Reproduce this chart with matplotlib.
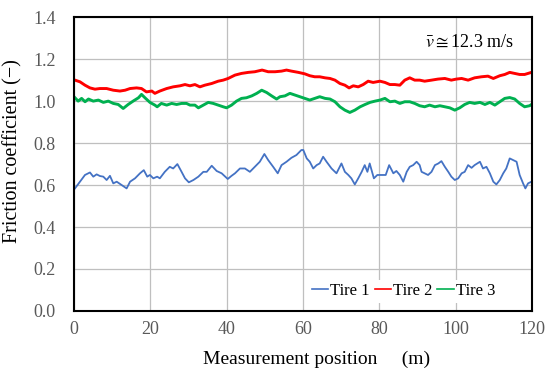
import matplotlib.pyplot as plt

# Tire 1 (blue)
t1_x = [0.26, 2.88, 4.19, 5.06, 5.94, 6.81, 7.69, 8.56, 9.43, 10.3, 11.2, 12.5, 13.8, 14.7,
        16.0, 17.3, 18.3, 19.2, 19.9, 20.8, 21.8, 22.5, 23.8, 25.1, 26.0, 27.1, 28.2, 29.1,
        30.1, 31.3, 32.6, 33.9, 34.8, 36.1, 37.4, 38.7, 40.3, 41.3, 42.2, 43.5, 44.8, 46.1,
        47.4, 48.7, 49.9, 50.9, 52.2, 53.4, 54.4, 55.7, 57.0, 58.3, 59.6, 60.1, 61.0, 61.8,
        62.7, 63.6, 64.4, 65.3, 66.2, 67.5, 68.8, 70.1, 71.0, 71.9, 72.7, 73.6, 74.5, 75.4,
        76.2, 76.9, 77.5, 78.6, 79.5, 80.6, 81.7, 82.6, 83.7, 84.5, 85.4, 86.3, 87.2, 88.0,
        88.9, 89.8, 90.6, 91.1, 91.9, 92.8, 93.7, 94.6, 95.5, 96.3, 97.2, 98.1, 98.9, 99.8,
        100.7, 101.6, 102.4, 103.3, 104.2, 105.0, 106.4, 107.2, 108.1, 109.0, 109.9, 110.7,
        111.6, 112.5, 113.3, 114.2, 115.1, 116.0, 116.8, 117.7, 118.3, 119.0, 119.9]
t1_y = [0.584, 0.648, 0.660, 0.640, 0.651, 0.643, 0.640, 0.624, 0.644, 0.608, 0.616, 0.600,
        0.584, 0.616, 0.632, 0.656, 0.671, 0.640, 0.648, 0.632, 0.640, 0.632, 0.663, 0.687,
        0.679, 0.700, 0.663, 0.632, 0.613, 0.624, 0.640, 0.663, 0.663, 0.692, 0.667, 0.656,
        0.629, 0.644, 0.656, 0.679, 0.679, 0.663, 0.687, 0.711, 0.748, 0.719, 0.687, 0.656,
        0.695, 0.711, 0.730, 0.743, 0.767, 0.767, 0.727, 0.711, 0.679, 0.695, 0.703, 0.735,
        0.711, 0.679, 0.656, 0.703, 0.663, 0.648, 0.632, 0.603, 0.632, 0.663, 0.695, 0.663,
        0.703, 0.632, 0.648, 0.648, 0.648, 0.695, 0.656, 0.667, 0.648, 0.616, 0.663, 0.687,
        0.695, 0.711, 0.695, 0.663, 0.656, 0.648, 0.663, 0.695, 0.703, 0.714, 0.687, 0.663,
        0.640, 0.624, 0.632, 0.656, 0.663, 0.695, 0.682, 0.695, 0.711, 0.679, 0.687, 0.656,
        0.616, 0.603, 0.624, 0.656, 0.679, 0.727, 0.719, 0.711, 0.648, 0.608, 0.584, 0.608,
        0.616]

# Tire 2 (red)
t2_x = [0.26, 1.57, 2.88, 4.19, 5.5, 6.81, 8.56, 10.3, 12.05, 13.4, 14.7, 16.4, 17.7, 19.0,
        20.4, 21.2, 22.5, 24.3, 26.0, 27.8, 29.1, 30.4, 31.7, 33.0, 34.3, 36.1, 37.8, 39.1,
        40.4, 42.2, 43.9, 45.7, 47.4, 49.3, 50.9, 52.7, 54.4, 55.7, 57.0, 58.8, 60.5, 61.8,
        63.1, 64.4, 65.8, 67.1, 68.4, 69.7, 71.0, 72.1, 73.2, 74.5, 75.8, 77.1, 78.4, 80.2,
        81.5, 82.8, 84.1, 85.4, 86.7, 88.0, 89.3, 90.6, 91.9, 93.7, 95.4, 97.2, 98.9, 100.2,
        101.6, 103.3, 105.0, 106.8, 108.5, 109.9, 111.6, 112.9, 114.2, 115.5, 116.8, 118.1,
        119.0, 119.9]
t2_y = [1.100, 1.092, 1.076, 1.063, 1.057, 1.060, 1.060, 1.052, 1.048, 1.052, 1.060, 1.063,
        1.060, 1.044, 1.048, 1.037, 1.048, 1.060, 1.068, 1.073, 1.079, 1.073, 1.079, 1.068,
        1.076, 1.084, 1.095, 1.100, 1.108, 1.124, 1.132, 1.137, 1.140, 1.148, 1.140, 1.140,
        1.143, 1.148, 1.143, 1.137, 1.130, 1.121, 1.116, 1.116, 1.111, 1.108, 1.100, 1.084,
        1.076, 1.063, 1.073, 1.068, 1.079, 1.095, 1.089, 1.095, 1.089, 1.079, 1.079, 1.076,
        1.100, 1.111, 1.100, 1.100, 1.095, 1.100, 1.105, 1.108, 1.100, 1.105, 1.108, 1.100,
        1.111, 1.116, 1.119, 1.108, 1.121, 1.127, 1.137, 1.132, 1.127, 1.127, 1.132, 1.137]

# Tire 3 (green)
t3_x = [0.26, 1.1, 2.0, 2.9, 3.8, 5.06, 6.4, 7.7, 9.0, 10.3, 11.6, 12.9, 14.2, 15.5, 16.9,
        17.7, 18.6, 19.9, 21.2, 21.8, 22.9, 24.3, 25.6, 26.9, 28.2, 29.5, 30.4, 31.7, 32.6,
        33.9, 35.2, 36.5, 37.8, 39.1, 40.0, 41.3, 42.6, 43.9, 45.2, 46.6, 47.9, 49.2, 50.5,
        51.8, 53.1, 54.0, 55.3, 56.6, 57.9, 59.2, 60.5, 61.8, 63.1, 64.4, 65.8, 67.1, 68.4,
        69.7, 71.0, 72.3, 73.6, 75.0, 76.3, 77.6, 78.9, 80.2, 81.5, 82.8, 84.1, 85.4, 86.7,
        88.0, 89.3, 90.6, 91.9, 93.2, 94.6, 95.9, 97.2, 98.5, 99.8, 101.1, 102.4, 103.7,
        105.0, 106.4, 107.7, 109.0, 110.3, 111.6, 112.9, 114.2, 115.5, 116.8, 118.1, 119.4,
        119.9]
t3_y = [1.016, 1.000, 1.013, 0.997, 1.010, 1.000, 1.005, 0.994, 1.000, 0.989, 0.984, 0.965,
        0.984, 1.000, 1.016, 1.032, 1.016, 0.994, 0.981, 0.973, 0.989, 0.981, 0.989, 0.984,
        0.989, 0.989, 0.981, 0.981, 0.968, 0.981, 0.994, 0.989, 0.981, 0.973, 0.968, 0.981,
        1.000, 1.013, 1.016, 1.025, 1.037, 1.052, 1.041, 1.025, 1.010, 1.021, 1.025, 1.037,
        1.029, 1.021, 1.013, 1.005, 1.013, 1.021, 1.013, 1.010, 0.997, 0.973, 0.957, 0.946,
        0.957, 0.973, 0.984, 0.994, 1.000, 1.005, 1.013, 0.997, 1.000, 0.989, 0.997, 0.997,
        0.989, 0.978, 0.973, 0.981, 0.973, 0.978, 0.973, 0.968, 0.957, 0.968, 0.984, 0.994,
        0.989, 0.994, 0.984, 0.994, 0.981, 0.997, 1.013, 1.017, 1.010, 0.989, 0.973, 0.978,
        0.984]

plt.rcParams['font.family'] = ['Liberation Serif', 'DejaVu Serif']
plt.rcParams['mathtext.fontset'] = 'stix'

fig = plt.figure(figsize=(5.5, 3.82), dpi=100)
ax = fig.add_axes([0.1345, 0.186, 0.8325, 0.769])

ax.plot(t1_x, t1_y, color='#4472C4', lw=1.3, label='Tire 1')
ax.plot(t2_x, t2_y, color='#FF0000', lw=2.1, label='Tire 2')
ax.plot(t3_x, t3_y, color='#00B050', lw=2.1, label='Tire 3')

ax.set_xlim(0, 120)
ax.set_ylim(0, 1.4)
ax.set_xticks(range(0, 121, 20))
ax.set_yticks([0.0, 0.2, 0.4, 0.6, 0.8, 1.0, 1.2, 1.4])
ax.set_yticklabels([f"{v:.1f}" for v in ax.get_yticks()])
ax.grid(True, color='#BFBFBF', lw=0.9)
ax.set_axisbelow(True)
ax.tick_params(length=0, labelsize=13, labelcolor='#595959')
ax.tick_params(axis='y', pad=13)
ax.tick_params(axis='x', pad=7)
for s in ax.spines.values():
    s.set_linewidth(1.5)
    s.set_color('black')

ax.set_xlabel("Measurement position\u2003 (m)", fontsize=14)
ax.xaxis.set_label_coords(0.53, -0.135)
ax.set_ylabel("Friction coefficient (\u2212)", fontsize=14.5)
ax.yaxis.set_label_coords(-0.112, 0.545)

ax.text(0.96, 0.915, r"$\bar{v}\cong$12.3 m/s", transform=ax.transAxes,
        ha='right', va='center', fontsize=13)

leg = ax.legend(loc='lower right', bbox_to_anchor=(0.945, 0.0), ncol=3, fontsize=12,
                frameon=True, handlelength=1.0, handletextpad=0.1, columnspacing=0.3,
                borderaxespad=0.5, borderpad=0.2)
leg.get_frame().set_edgecolor('none')
leg.get_frame().set_facecolor('white')
leg.get_frame().set_alpha(1)
for h in leg.get_lines():
    h.set_linewidth(1.2)

fig.savefig('out.png', dpi=100)
